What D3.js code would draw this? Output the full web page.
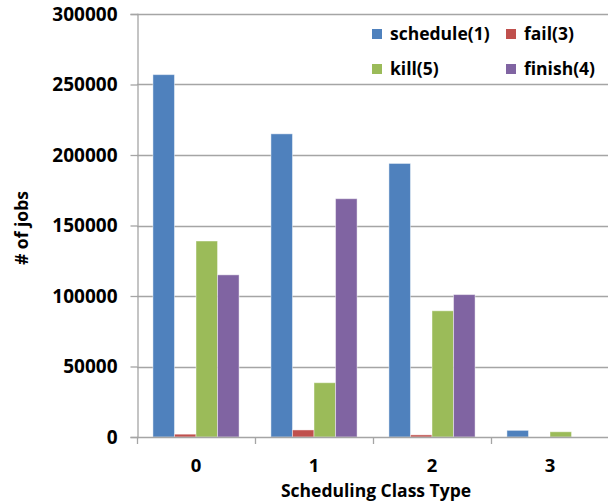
<!DOCTYPE html>
<html>
<head>
<meta charset="utf-8">
<script src="https://cdn.jsdelivr.net/npm/d3@7"></script>
<style>
  html, body { margin: 0; padding: 0; background: #fff; }
  svg text { font-family: "Open Sans", Lato, sans-serif; font-weight: 700; fill: #000; }
</style>
</head>
<body>
<svg id="chart" width="608" height="504"></svg>
<script>
// Job counts per scheduling class, by event type
const categories = ["0", "1", "2", "3"];
const seriesNames = ["schedule(1)", "fail(3)", "kill(5)", "finish(4)"];
const scheduleValues = [257000, 215000, 194000, 4700];
const failValues = [2000, 5000, 1500, 0];
const killValues = [139000, 38500, 89500, 3700];
const finishValues = [115000, 169000, 101000, 0];
const yTicks = [0, 50000, 100000, 150000, 200000, 250000, 300000];
const colors = ["#4F81BD", "#C0504D", "#9BBB59", "#8064A2"];

const seriesValues = [scheduleValues, failValues, killValues, finishValues];

const svg = d3.select("#chart");
const plot = { left: 137, right: 609, top: 14, bottom: 437 };
const fontSize = "17.5px";

const x0 = d3.scaleBand().domain(categories)
  .range([plot.left, plot.right]).paddingInner(0.27).paddingOuter(0.135);
const x1 = d3.scaleBand().domain(seriesNames).range([0, x0.bandwidth()]);
const y = d3.scaleLinear().domain([0, 300000]).range([plot.bottom, plot.top]);

// horizontal gridlines
svg.append("g").selectAll("line").data(yTicks.slice(1)).join("line")
  .attr("x1", plot.left).attr("x2", 608)
  .attr("y1", d => Math.round(y(d)) + 0.5).attr("y2", d => Math.round(y(d)) + 0.5)
  .attr("stroke", "#a5a5a5").attr("stroke-width", 1.3);

// bars
const groups = svg.append("g").selectAll("g").data(categories).join("g")
  .attr("transform", c => `translate(${x0(c)},0)`);
groups.selectAll("rect")
  .data((c, i) => seriesNames.map((s, j) => ({ s, j, v: seriesValues[j][i] })))
  .join("rect")
  .filter(d => d.v > 0)
  .attr("x", d => x1(d.s))
  .attr("width", x1.bandwidth())
  .attr("y", d => y(d.v))
  .attr("height", d => y(0) - y(d.v))
  .attr("fill", d => colors[d.j])
  .attr("stroke", "rgba(255,255,255,0.45)").attr("stroke-width", 1);

// y axis
const yAxis = svg.append("g").attr("transform", `translate(${plot.left + 0.5},0)`)
  .call(d3.axisLeft(y).tickValues(yTicks).tickSize(7).tickPadding(13).tickFormat(d3.format("d")));
yAxis.select(".domain").attr("stroke", "#a5a5a5").attr("stroke-width", 1.3);
yAxis.selectAll(".tick line").attr("stroke", "#a5a5a5").attr("stroke-width", 1.3);
yAxis.selectAll("text").style("font-size", "19px").style("font-family", "'Open Sans', sans-serif")
  .style("font-weight", 700).attr("fill", "#000");

// x axis: baseline with ticks at category boundaries
const xg = svg.append("g");
xg.append("line").attr("x1", plot.left).attr("x2", 608)
  .attr("y1", plot.bottom + 0.5).attr("y2", plot.bottom + 0.5)
  .attr("stroke", "#a5a5a5").attr("stroke-width", 1.3);
const bounds = d3.range(categories.length + 1).map(i => plot.left + i * (plot.right - plot.left) / categories.length);
xg.selectAll("line.b").data(bounds).join("line").attr("class", "b")
  .attr("x1", d => Math.round(d) + 0.5).attr("x2", d => Math.round(d) + 0.5)
  .attr("y1", plot.bottom).attr("y2", plot.bottom + 7)
  .attr("stroke", "#a5a5a5").attr("stroke-width", 1.3);
xg.selectAll("text").data(categories).join("text")
  .attr("x", c => x0(c) + x0.bandwidth() / 2)
  .attr("y", 472).attr("text-anchor", "middle")
  .style("font-size", "18.5px").text(c => c);

// axis titles
svg.append("text").attr("x", 376).attr("y", 497).attr("text-anchor", "middle")
  .style("font-size", fontSize).text("Scheduling Class Type");
svg.append("text").attr("transform", "translate(28,228) rotate(-90)")
  .attr("text-anchor", "middle").style("font-size", fontSize).text("# of jobs");

// legend
const legendPos = [[372, 34], [506, 34], [372, 69], [506, 69]];
const lg = svg.append("g");
const items = lg.selectAll("g").data(seriesNames).join("g")
  .attr("transform", (d, i) => `translate(${legendPos[i][0]},${legendPos[i][1]})`);
items.append("rect").attr("x", 0).attr("y", -5).attr("width", 10).attr("height", 10)
  .attr("fill", (d, i) => colors[i]);
items.append("text").attr("x", 18).attr("y", 6).style("font-size", fontSize).text(d => d);
</script>
</body>
</html>
